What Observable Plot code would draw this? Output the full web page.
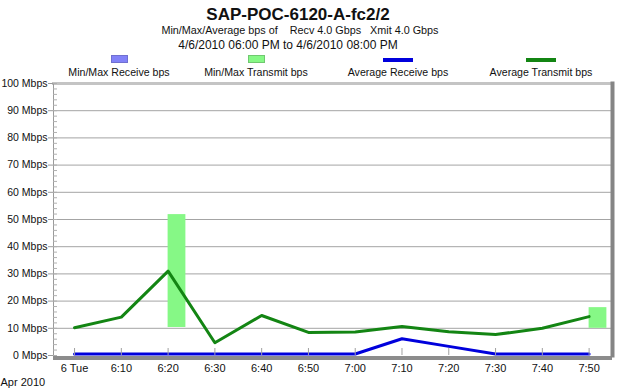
<!DOCTYPE html>
<html>
<head>
<meta charset="utf-8">
<script src="https://cdn.jsdelivr.net/npm/d3@7"></script>
<script src="https://cdn.jsdelivr.net/npm/@observablehq/plot@0.6"></script>
<style>
  html, body { margin: 0; padding: 0; background: #fff; }
  #wrap { position: relative; width: 619px; height: 390px; overflow: hidden; font-family: "Liberation Sans", Arial, sans-serif; color: #111; }
  .t { position: absolute; white-space: pre; text-align: center; }
  #chart { position: absolute; left: 0; top: 80px; }
  .sw { position: absolute; }
</style>
</head>
<body>
<div id="wrap">
  <div id="header"></div>
  <div id="chart"></div>
</div>
<script>
// ---- data ----
const title = "SAP-POC-6120-A-fc2/2";
const subtitle1 = "Min/Max/Average bps of    Recv 4.0 Gbps   Xmit 4.0 Gbps";
const subtitle2 = "4/6/2010 06:00 PM to 4/6/2010 08:00 PM";
const seriesNames = ["Min/Max Receive bps", "Min/Max Transmit bps", "Average Receive bps", "Average Transmit bps"];
const seriesColors = ["#8282f8", "#86f886", "#0000dc", "#138513"];
const minutes = [0, 10, 20, 30, 40, 50, 60, 70, 80, 90, 100, 110]; // minutes after 6:00 PM
const tickLabels = ["6 Tue", "6:10", "6:20", "6:30", "6:40", "6:50", "7:00", "7:10", "7:20", "7:30", "7:40", "7:50"];
const avgTransmit = [10.2, 14.1, 31.0, 4.7, 14.7, 8.5, 8.6, 10.7, 8.7, 7.7, 10.0, 14.3];
const avgReceive = [0, 0, 0, 0, 0, 0, 0, 5.6, 2.8, 0, 0, 0];
const rangeTimes = [20, 110];
const transmitMin = [10.3, 10.0];
const transmitMax = [51.8, 17.6];
const yTicks = [0, 10, 20, 30, 40, 50, 60, 70, 80, 90, 100];
const yMinorTicks = d3.range(0, 101, 2);
const dateLabel = ["Apr 2010"];

// ---- header (title, subtitles, legend) ----
const header = document.getElementById("header");
function addText(txt, cx, top, size, weight) {
  const d = document.createElement("div");
  d.className = "t";
  d.textContent = txt;
  d.style.left = (cx - 300) + "px";
  d.style.width = "600px";
  d.style.top = top + "px";
  d.style.fontSize = size + "px";
  d.style.lineHeight = (size + 3) + "px";
  if (weight) d.style.fontWeight = weight;
  header.appendChild(d);
}
addText(title, 298, 5, 17, "bold");
addText(subtitle1, 300, 24, 10.8);
addText(subtitle2, 288, 38, 12);

const legendCenters = [119, 256, 398, 541];
seriesNames.forEach((name, i) => {
  const cx = legendCenters[i];
  const sw = document.createElement("div");
  sw.className = "sw";
  if (i < 2) {
    sw.style.left = (cx - 8) + "px"; sw.style.top = "55px";
    sw.style.width = "15px"; sw.style.height = "6px";
    sw.style.background = seriesColors[i];
    sw.style.border = "1px solid " + (i === 0 ? "#7070d0" : "#70c870");
  } else {
    sw.style.left = (cx - 15) + "px"; sw.style.top = "58px";
    sw.style.width = "30px"; sw.style.height = "4px";
    sw.style.background = seriesColors[i];
  }
  header.appendChild(sw);
  addText(name, cx, 66, 10.6);
});

// ---- chart ----
const rows = minutes.map((t, i) => ({t, label: tickLabels[i], tx: avgTransmit[i], rx: avgReceive[i]}));
const ranges = rangeTimes.map((t, i) => ({t, lo: transmitMin[i], hi: transmitMax[i]}));
const barSpan = 3.8;

const chart = Plot.plot({
  width: 619,
  height: 310,
  marginLeft: 53,
  marginRight: 7,
  marginTop: 3,
  marginBottom: 35,
  style: {fontFamily: "Liberation Sans, Arial, sans-serif", fontSize: "11px", color: "#111", overflow: "visible"},
  x: {domain: [-4.5, 115], label: null},
  y: {domain: [0, 100], label: null},
  marks: [
    Plot.ruleY(yTicks.filter(d => d > 0 && d < 100), {stroke: "#a4a4a4", strokeWidth: 1}),
    Plot.rect(ranges, {x1: "t", x2: d => d.t + barSpan, y1: "lo", y2: "hi", fill: seriesColors[1]}),
    Plot.line(rows, {x: "t", y: "tx", stroke: seriesColors[3], strokeWidth: 3}),
    Plot.line(rows, {x: "t", y: "rx", stroke: seriesColors[2], strokeWidth: 3, dy: -1.5}),
    Plot.ruleY([0], {stroke: "#8c8c8c", strokeWidth: 4, dy: 2.5}),
    Plot.frame({anchor: "top", stroke: "#c4c4c4", strokeWidth: 3}),
    Plot.frame({anchor: "right", stroke: "#858585", strokeWidth: 4}),
    Plot.frame({anchor: "left", stroke: "#9a9a9a", strokeWidth: 1}),
    Plot.axisY({ticks: yTicks, tickFormat: d => `${d} Mbps`, tickSize: 5, tickPadding: 1, stroke: "#9a9a9a", fill: "#111", fontSize: 10.5}),
    Plot.axisY({ticks: yMinorTicks, tickSize: 4, text: null, dx: 4, stroke: "#b0b0b0"}),
    Plot.axisX({ticks: minutes, tickSize: 7, text: null, dy: -7, stroke: "#a0a0a0"}),
    Plot.axisX({ticks: minutes, tickSize: 0, tickPadding: 9, tickFormat: d => tickLabels[minutes.indexOf(d)], fill: "#111"}),
    Plot.text(dateLabel, {frameAnchor: "bottom-left", dx: -53, dy: 30, textAnchor: "start", fill: "#111"})
  ]
});
document.getElementById("chart").appendChild(chart);
</script>
</body>
</html>
